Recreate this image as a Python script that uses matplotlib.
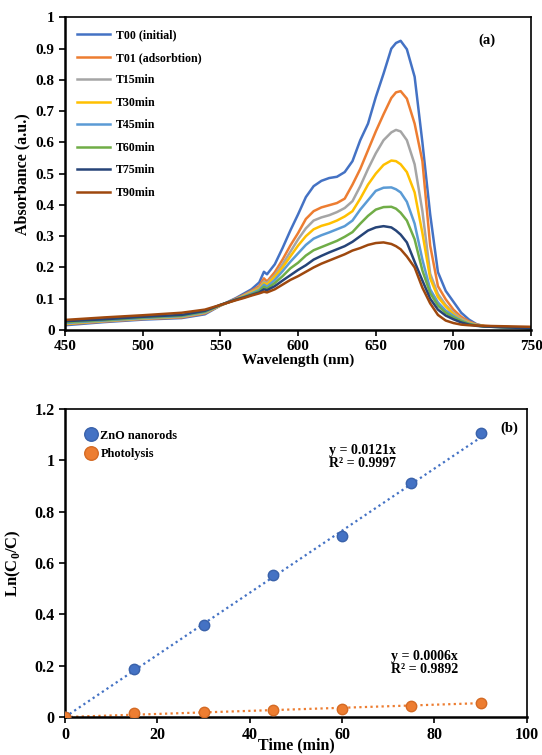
import matplotlib
matplotlib.use("Agg")
import matplotlib.pyplot as plt
import numpy as np
from matplotlib.ticker import FuncFormatter

plt.rcParams['font.family'] = ['Liberation Serif', 'DejaVu Serif']
plt.rcParams['font.weight'] = 'bold'
plt.rcParams['mathtext.fontset'] = 'custom'
plt.rcParams['mathtext.bf'] = 'Liberation Serif:bold'
plt.rcParams['mathtext.rm'] = 'Liberation Serif:bold'

# ---------------- Panel (a) data ----------------
wavelength = [450, 475, 500, 525, 540, 550, 560, 565, 570, 575, 578, 580, 585, 590, 595,
              600, 605, 610, 615, 620, 625, 630, 635, 640, 645, 650, 655, 660, 663, 666,
              670, 675, 680, 685, 690, 695, 700, 705, 710, 715, 720, 730, 740, 750]

T00 = [0.015, 0.025, 0.033, 0.038, 0.050, 0.078, 0.102, 0.116, 0.130, 0.152, 0.186, 0.178, 0.210, 0.262, 0.318,
       0.370, 0.425, 0.460, 0.477, 0.486, 0.490, 0.505, 0.540, 0.607, 0.660, 0.745, 0.820, 0.900, 0.918, 0.925,
       0.898, 0.810, 0.600, 0.370, 0.185, 0.125, 0.090, 0.055, 0.033, 0.018, 0.012, 0.010, 0.008, 0.007]
T01 = [0.018, 0.027, 0.035, 0.040, 0.053, 0.078, 0.100, 0.112, 0.125, 0.140, 0.165, 0.155, 0.185, 0.225, 0.270,
       0.310, 0.355, 0.380, 0.392, 0.399, 0.406, 0.420, 0.465, 0.515, 0.575, 0.635, 0.690, 0.742, 0.760, 0.764,
       0.740, 0.660, 0.540, 0.270, 0.140, 0.098, 0.065, 0.042, 0.027, 0.017, 0.013, 0.010, 0.008, 0.006]
T15 = [0.020, 0.028, 0.036, 0.042, 0.055, 0.078, 0.098, 0.110, 0.122, 0.135, 0.155, 0.150, 0.175, 0.210, 0.250,
       0.290, 0.325, 0.350, 0.360, 0.367, 0.377, 0.390, 0.412, 0.460, 0.515, 0.565, 0.607, 0.632, 0.640, 0.635,
       0.607, 0.530, 0.380, 0.180, 0.115, 0.080, 0.055, 0.036, 0.024, 0.016, 0.012, 0.010, 0.008, 0.006]
T30 = [0.020, 0.029, 0.037, 0.043, 0.056, 0.079, 0.097, 0.108, 0.120, 0.132, 0.150, 0.145, 0.170, 0.200, 0.235,
       0.270, 0.300, 0.322, 0.333, 0.340, 0.350, 0.363, 0.380, 0.420, 0.465, 0.500, 0.528, 0.542, 0.540, 0.530,
       0.505, 0.440, 0.310, 0.165, 0.105, 0.075, 0.050, 0.032, 0.022, 0.015, 0.012, 0.010, 0.008, 0.006]
T45 = [0.022, 0.030, 0.038, 0.044, 0.057, 0.080, 0.097, 0.106, 0.117, 0.128, 0.145, 0.138, 0.160, 0.188, 0.218,
       0.245, 0.272, 0.292, 0.303, 0.312, 0.322, 0.332, 0.350, 0.385, 0.415, 0.445, 0.455, 0.456, 0.450, 0.440,
       0.410, 0.340, 0.225, 0.130, 0.088, 0.062, 0.045, 0.030, 0.020, 0.014, 0.011, 0.009, 0.007, 0.006]
T60 = [0.025, 0.032, 0.040, 0.046, 0.059, 0.080, 0.097, 0.105, 0.114, 0.124, 0.138, 0.132, 0.150, 0.172, 0.197,
       0.215, 0.238, 0.255, 0.265, 0.275, 0.285, 0.298, 0.313, 0.340, 0.365, 0.385, 0.393, 0.394, 0.388, 0.375,
       0.350, 0.290, 0.190, 0.118, 0.078, 0.055, 0.040, 0.028, 0.019, 0.014, 0.011, 0.009, 0.007, 0.006]
T75 = [0.028, 0.034, 0.042, 0.048, 0.061, 0.080, 0.097, 0.104, 0.112, 0.120, 0.130, 0.127, 0.140, 0.158, 0.175,
       0.192, 0.207, 0.225, 0.237, 0.248, 0.258, 0.268, 0.282, 0.300, 0.318, 0.328, 0.332, 0.328, 0.318, 0.305,
       0.280, 0.218, 0.158, 0.100, 0.065, 0.046, 0.034, 0.024, 0.017, 0.013, 0.011, 0.009, 0.007, 0.006]
T90 = [0.032, 0.040, 0.047, 0.055, 0.065, 0.080, 0.095, 0.102, 0.110, 0.117, 0.122, 0.120, 0.130, 0.145, 0.160,
       0.172, 0.186, 0.200, 0.212, 0.222, 0.232, 0.242, 0.254, 0.262, 0.272, 0.278, 0.280, 0.275, 0.268, 0.258,
       0.235, 0.200, 0.135, 0.085, 0.048, 0.030, 0.022, 0.017, 0.015, 0.014, 0.013, 0.012, 0.011, 0.010]

spectra = [T00, T01, T15, T30, T45, T60, T75, T90]
spectra_labels = ["T00 (initial)", "T01 (adsorbtion)", "T15min", "T30min", "T45min",
                  "T60min", "T75min", "T90min"]
spectra_colors = ["#4472C4", "#ED7D31", "#A5A5A5", "#FFC000", "#5B9BD5", "#70AD47", "#264478", "#9E480E"]

# ---------------- Panel (b) data ----------------
time_min = [0, 15, 30, 45, 60, 75, 90]
zno = [0, 0.186, 0.357, 0.552, 0.704, 0.911, 1.107]
photolysis = [0, 0.015, 0.019, 0.026, 0.033, 0.043, 0.055]
slope_zno = 0.0121
slope_photo = 0.0006

fig = plt.figure(figsize=(5.42, 7.55), dpi=100)

fmt = FuncFormatter(lambda v, p: f"{v:g}")

# ---------- Panel (a) ----------
ax1 = fig.add_axes([0.120, 0.563, 0.860, 0.414])
for y, lab, c in zip(spectra, spectra_labels, spectra_colors):
    ax1.plot(wavelength, y, color=c, lw=1.8, label=lab)
ax1.set_xlim(450, 750)
ax1.set_ylim(0, 1)
ax1.set_xticks(np.arange(450, 751, 50))
ax1.set_yticks(np.arange(0, 1.01, 0.1))
ax1.yaxis.set_major_formatter(fmt)
ax1.set_xlabel("Wavelength (nm)", fontsize=11, fontweight='bold', labelpad=0)
ax1.set_ylabel("Absorbance (a.u.)", fontsize=11.5, fontweight='bold', labelpad=4)
ax1.tick_params(direction='out', length=4, width=1.2, labelsize=11)
for side in ['left', 'bottom']:
    ax1.spines[side].set_linewidth(1.8)
for side in ['top', 'right']:
    ax1.spines[side].set_linewidth(1.2)
ax1.legend(loc='upper left', frameon=False, handlelength=2.8,
           labelspacing=0.88, handletextpad=0.45, borderaxespad=0.6,
           prop={'weight': 'bold', 'size': 8.6})
ax1.text(0.906, 0.926, "(a)", transform=ax1.transAxes, fontsize=10.5, fontweight='bold',
         ha='center', va='center')

# ---------- Panel (b) ----------
ax2 = fig.add_axes([0.120, 0.0503, 0.852, 0.408])
tfit = np.array([0, 90])
ax2.plot(tfit, slope_zno * tfit, ls=(0, (1, 1.5)), color="#4472C4", lw=1.6)
ax2.plot(tfit, slope_photo * tfit, ls=(0, (1, 1.5)), color="#ED7D31", lw=1.6)
ax2.plot(time_min, zno, 'o', color="#4472C4", mec="#3A62AA", ms=7.5, label="ZnO nanorods", zorder=3)
ax2.plot(time_min, photolysis, 'o', color="#ED7D31", mec="#D46A24", ms=7.5, label="Photolysis", zorder=3)
ax2.set_xlim(0, 100)
ax2.set_ylim(0, 1.2)
ax2.set_xticks(np.arange(0, 101, 20))
ax2.set_yticks(np.arange(0, 1.21, 0.2))
ax2.yaxis.set_major_formatter(fmt)
ax2.set_xlabel("Time (min)", fontsize=11.5, fontweight='bold', labelpad=-4)
ax2.set_ylabel("Ln(C$_\\mathbf{0}$/C)", fontsize=12, fontweight='bold', labelpad=8)
ax2.tick_params(direction='out', length=4, width=1.2, labelsize=11.5)
for side in ['left', 'bottom']:
    ax2.spines[side].set_linewidth(1.8)
for side in ['top', 'right']:
    ax2.spines[side].set_linewidth(1.2)
ax2.legend(loc='upper left', frameon=False, markerscale=1.3, handlelength=0.8,
           handletextpad=0.4, labelspacing=0.5, borderaxespad=1.3,
           prop={'weight': 'bold', 'size': 8.8})
ax2.text(0.961, 0.938, "(b)", transform=ax2.transAxes, fontsize=10.5, fontweight='bold',
         ha='center', va='center')
ax2.text(57.1, 0.962, "y = 0.0121x\nR² = 0.9997", fontsize=10, fontweight='bold',
         ha='left', va='bottom', linespacing=1.05)
ax2.text(70.5, 0.158, "y = 0.0006x\nR² = 0.9892", fontsize=10, fontweight='bold',
         ha='left', va='bottom', linespacing=1.05)

fig.savefig("out.png", dpi=100)
